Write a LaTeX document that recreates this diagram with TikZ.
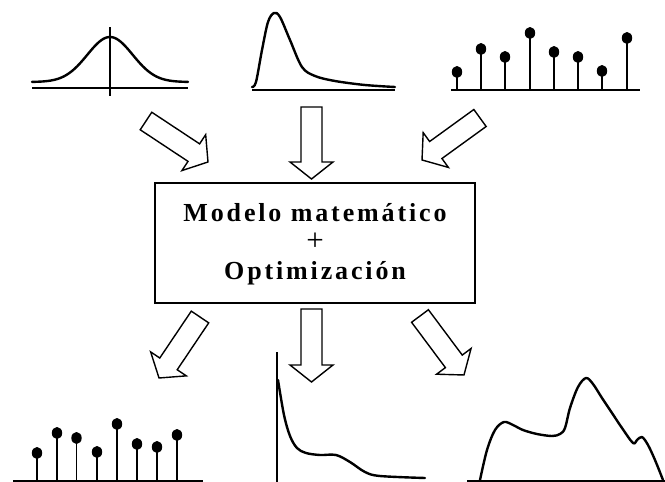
\documentclass[tikz,border=0pt]{standalone}
\usepackage{fontspec}
\setmainfont{Liberation Serif}
\newfontfamily\boxfont[LetterSpace=11]{Liberation Serif}
\usetikzlibrary{calc}
\tikzset{
  barrow/.style={draw=black, line width=1.4pt, fill=white, line join=miter},
  curve/.style={line width=2.4pt, line cap=round, line join=round},
  axisline/.style={line width=1.2pt},
  stemline/.style={line width=1.2pt},
  modelbox/.style={draw, line width=2pt, minimum width=320pt, minimum height=120pt, inner sep=0pt},
}
\newcommand\blockarrow[2]{%
  \draw[barrow] let \p1=($(#2)-(#1)$), \n1={atan2(\y1,\x1)}, \n2={veclen(\x1,\y1)}, \n3={\n2-17} in
   [shift={(#1)}, rotate=\n1] (0pt,10.5pt) -- (\n3,10.5pt) -- (\n3,21.5pt) -- (\n2,0pt)
   -- (\n3,-21.5pt) -- (\n3,-10.5pt) -- (0pt,-10.5pt) -- cycle;}
\newcommand\stem[3]{%
  \draw[stemline] (#1,#2) -- (#1,#3);
  \fill (#1,#3) ellipse (5.2pt and 6pt);}
\begin{document}
\begin{tikzpicture}[x=1pt,y=-1pt]
\useasboundingbox (0,0) rectangle (665,482);

% central box
\node[modelbox] (model) at (315,243) {};
\node[font=\boxfont\bfseries\fontsize{26}{29}\selectfont, align=center] (modeltext) at (315,244)
  {Modelo matemático\\{\normalfont\fontsize{31}{29}\selectfont +}\\Optimización};

% top-left: gaussian
\draw[axisline] (32,88) -- (188,88);
\draw[axisline] (110,27) -- (110,96);
\draw[curve] plot[domain=32:188, samples=80] (\x, {82-45*exp(-((\x-110)/32)^2)});

% top-middle: skewed
\draw[axisline] (252,90) -- (395,90);
\draw[curve] plot[smooth, tension=0.55] coordinates {(252,87) (256,82) (262,50) (268,22) (274,13) (280,17) (290,40) (302,67) (315,76) (335,81) (365,85) (395,87)};

% top-right: stems
\draw[axisline] (451,90) -- (640,90);
\stem{457}{90}{72}
\stem{481}{90}{49}
\stem{505}{90}{57}
\stem{530}{90}{33}
\stem{554}{90}{52}
\stem{578}{90}{57}
\stem{602}{90}{71}
\stem{627}{90}{38}

% arrows into the box
\coordinate (ta1) at (146,121); \coordinate (tb1) at (208,162);
\coordinate (ta2) at (311.5,107); \coordinate (tb2) at (311.5,179);
\coordinate (ta3) at (480,118); \coordinate (tb3) at (422,160);
\blockarrow{ta1}{tb1}
\blockarrow{ta2}{tb2}
\blockarrow{ta3}{tb3}

% arrows out of the box
\coordinate (ba1) at (200,317); \coordinate (bb1) at (159,378);
\coordinate (ba2) at (311.5,309); \coordinate (bb2) at (311.5,382);
\coordinate (ba3) at (420,316); \coordinate (bb3) at (464,375);
\blockarrow{ba1}{bb1}
\blockarrow{ba2}{bb2}
\blockarrow{ba3}{bb3}

% bottom-left: stems
\draw[axisline] (13,481) -- (203,481);
\stem{37}{481}{453}
\stem{57}{481}{433}
\stem{76.5}{481}{438}
\stem{97}{481}{452}
\stem{117}{481}{424}
\stem{137}{481}{444}
\stem{157}{481}{447}
\stem{177}{481}{435}

% bottom-middle
\draw[axisline] (277,352) -- (277,482);
\draw[curve] plot[smooth, tension=0.55] coordinates {(278,380) (284,415) (290,436) (297,448) (306,453) (320,455) (336,455) (350,462) (365,472) (380,476) (425,478)};

% bottom-right
\draw[axisline] (467,481) -- (665,481);
\draw[curve] plot[smooth, tension=0.55] coordinates {(480,480) (487,450) (495,430) (504,422) (513,425) (523,430) (537,434) (552,436) (560,434) (565,428) (570,408) (578,387) (586,378) (593,384) (602,398) (612,413) (622,428) (633,443) (637,440) (642,437) (648,445) (655,460) (663,480)};
\end{tikzpicture}
\end{document}
